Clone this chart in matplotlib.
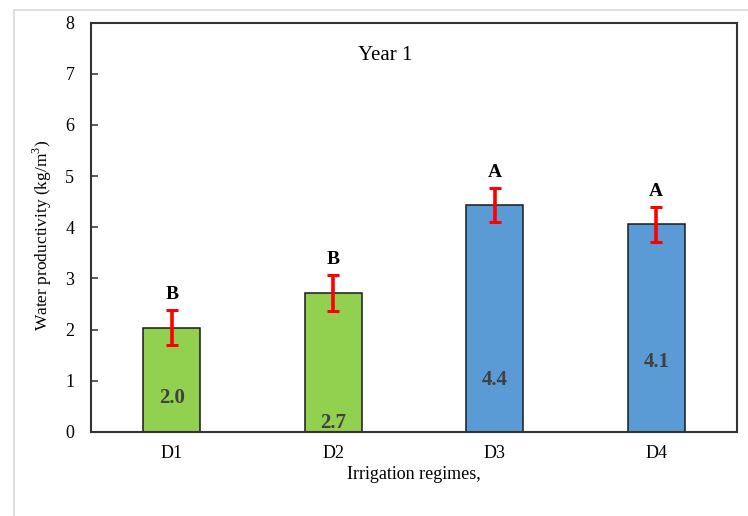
import matplotlib
matplotlib.use("Agg")
import matplotlib.pyplot as plt
from matplotlib.patches import Rectangle

categories = ["D1", "D2", "D3", "D4"]
values = [2.04, 2.72, 4.43, 4.06]
errors = [0.34, 0.35, 0.33, 0.34]
value_labels = ["2.0", "2.7", "4.4", "4.1"]
value_label_y = [0.67, 0.17, 1.02, 1.37]
group_letters = ["B", "B", "A", "A"]
bar_colors = ["#92D050", "#92D050", "#5B9BD5", "#5B9BD5"]
y_ticks = [0, 1, 2, 3, 4, 5, 6, 7, 8]

plt.rcParams["font.family"] = ["Liberation Serif", "DejaVu Serif"]
plt.rcParams["mathtext.fontset"] = "custom"
plt.rcParams["mathtext.rm"] = "Liberation Serif"

W, H = 748, 516
fig = plt.figure(figsize=(W / 100, H / 100), dpi=100)

# light chart-area border
fig.patches.append(Rectangle((14 / W, -0.05), 1.2, (H - 10) / H + 0.05,
                             transform=fig.transFigure, fill=False,
                             edgecolor="#D9D9D9", linewidth=1.2))

ax = fig.add_axes([91 / W, 1 - 432 / H, (737 - 91) / W, (432 - 22.5) / H])

x = range(len(categories))
ax.bar(x, values, width=0.355, color=bar_colors, edgecolor="#1a1a1a",
       linewidth=1.1, zorder=2)
ax.errorbar(x, values, yerr=errors, fmt="none", ecolor="#FF0000",
            elinewidth=2.6, capsize=4, capthick=2.2, zorder=3)

for i in x:
    ax.text(i, value_label_y[i], value_labels[i], ha="center", va="center",
            fontsize=15, fontweight="bold", color="#404040", zorder=4)
    ax.text(i, values[i] + errors[i] + 0.3, group_letters[i], ha="center",
            va="center", fontsize=14, fontweight="bold", color="black")

ax.set_xlim(-0.5, 3.5)
ax.set_ylim(0, 8)
ax.set_yticks(y_ticks)
ax.set_xticks(list(x))
ax.set_xticklabels(categories)
ax.tick_params(axis="y", direction="in", length=5, width=1.2, color="#404040",
               labelsize=13, pad=12)
ax.tick_params(axis="x", length=0, labelsize=13, pad=9)
for s in ax.spines.values():
    s.set_linewidth(1.5)
    s.set_color("#333333")

ax.text(1.32, 7.35, "Year 1", ha="center", va="center", fontsize=15)
ax.set_xlabel("Irrigation regimes,", fontsize=13, labelpad=3)
ax.set_ylabel("Water productivity (kg/m$^3$)", fontsize=12.5)
ax.yaxis.set_label_coords(-0.058, 0.48)

fig.savefig("out.png", dpi=100)
